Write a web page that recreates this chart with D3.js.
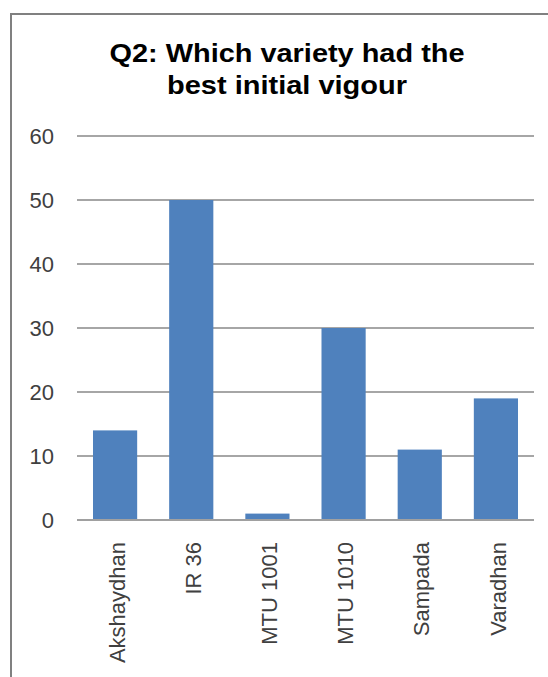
<!DOCTYPE html>
<html>
<head>
<meta charset="utf-8">
<script src="https://cdn.jsdelivr.net/npm/d3@7"></script>
<style>
  html, body { margin: 0; padding: 0; background: #fff; }
  svg { display: block; }
</style>
</head>
<body>
<div id="chart"></div>
<script>
const categories = ["Akshaydhan", "IR 36", "MTU 1001", "MTU 1010", "Sampada", "Varadhan"];
const values = [14, 50, 1, 30, 11, 19];
const yTicks = [0, 10, 20, 30, 40, 50, 60];
const titleLines = ["Q2: Which variety had the", "best initial vigour"];

const W = 548, H = 677;
const svg = d3.select("#chart").append("svg").attr("width", W).attr("height", H);

// outer frame
svg.append("rect")
  .attr("x", 11).attr("y", 14).attr("width", W + 20).attr("height", H + 20)
  .attr("fill", "#fff").attr("stroke", "#808080").attr("stroke-width", 2);

// title
const titleLens = [355, 240];
svg.append("g").selectAll("text").data(titleLines).join("text")
  .attr("x", 287).attr("y", (d, i) => 62 + i * 32)
  .attr("text-anchor", "middle")
  .attr("font-family", "Liberation Sans, Arial, sans-serif")
  .attr("font-weight", "bold").attr("font-size", 26)
  .attr("textLength", (d, i) => titleLens[i]).attr("lengthAdjust", "spacingAndGlyphs")
  .attr("fill", "#000")
  .text(d => d);

const x = d3.scaleBand().domain(categories).range([77, 534]).paddingInner(0.42).paddingOuter(0.21);
const y = d3.scaleLinear().domain([0, 60]).range([520, 136]);

// gridlines
svg.append("g").selectAll("line").data(yTicks.filter(t => t > 0)).join("line")
  .attr("x1", 77).attr("x2", 534)
  .attr("y1", d => y(d)).attr("y2", d => y(d))
  .attr("stroke", "#a6a6a6").attr("stroke-width", 2);

// y axis labels
const yAxis = d3.axisLeft(y).tickValues(yTicks).tickSize(0).tickPadding(0);
const gy = svg.append("g").attr("transform", "translate(54,0)").call(yAxis);
gy.select(".domain").remove();
gy.selectAll("text")
  .attr("font-family", "Liberation Sans, Arial, sans-serif")
  .attr("font-size", 22).attr("fill", "#404040");

// bars
svg.append("g").selectAll("rect").data(values).join("rect")
  .attr("x", (d, i) => x(categories[i]))
  .attr("width", x.bandwidth())
  .attr("y", d => y(d))
  .attr("height", d => y(0) - y(d))
  .attr("fill", "#4f81bd");

// x axis
const xAxis = d3.axisBottom(x).tickSize(0).tickPadding(0);
const gx = svg.append("g").attr("transform", "translate(0,520)").call(xAxis);
gx.select(".domain").attr("stroke", "#a0a0a0").attr("stroke-width", 2)
  .attr("d", "M77,0H534");
gx.selectAll("text")
  .attr("font-family", "Liberation Sans, Arial, sans-serif")
  .attr("font-size", 22).attr("fill", "#404040")
  .attr("text-anchor", "end")
  .attr("transform", "translate(2,22) rotate(-90)")
  .attr("x", 0).attr("y", 0).attr("dy", "0.35em");
</script>
</body>
</html>
